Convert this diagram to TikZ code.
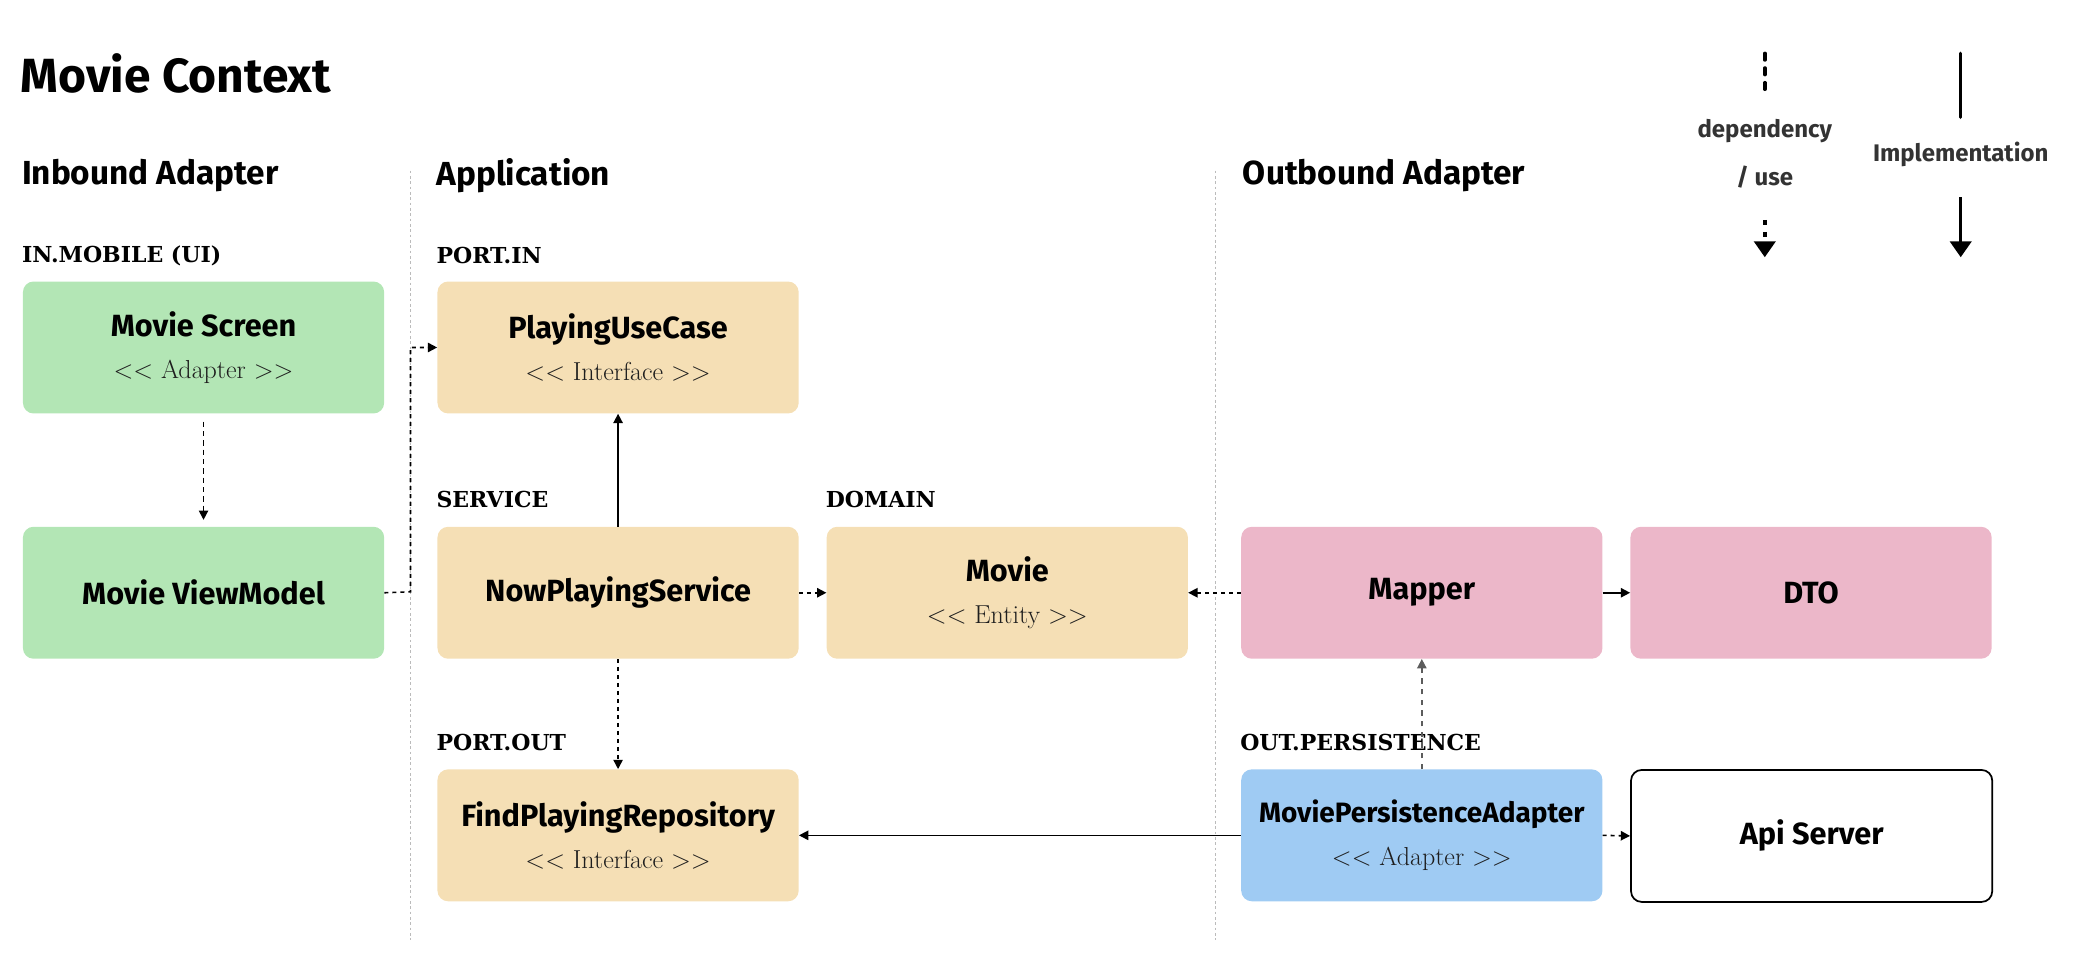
\documentclass[tikz,border=0pt]{standalone}
\usepackage{fontspec}
\usetikzlibrary{arrows.meta}
\newfontfamily\hand{Fira Sans}
\newfontfamily\slab{DejaVu Serif}
\definecolor{cgreen}{HTML}{B3E6B5}
\definecolor{ctan}{HTML}{F5DFB5}
\definecolor{cpink}{HTML}{ECB7C9}
\definecolor{cblue}{HTML}{9FCBF3}
\definecolor{cdark}{HTML}{333333}
\definecolor{csub}{HTML}{1E1E1E}
\definecolor{csep}{HTML}{BBBBBB}
\begin{document}
\begin{tikzpicture}[x=1pt,y=-1pt,
  box/.style={rounded corners=8pt, minimum width=271pt, minimum height=99pt, inner sep=0pt, anchor=north west, align=center,
    font=\fontsize{19}{32}\selectfont},
  ttl/.style={font=\hand\bfseries\fontsize{36}{42}\selectfont, anchor=west},
  sect/.style={font=\hand\bfseries\fontsize{25}{30}\selectfont, anchor=west},
  pkg/.style={font=\slab\bfseries\fontsize{16.5}{20}\selectfont, anchor=west},
  leg/.style={font=\hand\bfseries\fontsize{18}{22}\selectfont, text=cdark},
  sep/.style={csep, line width=0.9pt, dash pattern=on 2pt off 2pt},
  tip/.style={-{Triangle[length=7pt,width=7pt]}},
  dep/.style={tip, line width=1.2pt, dash pattern=on 3pt off 3pt},
  impl/.style={tip, line width=1.2pt},
]
\newcommand{\bt}[1]{{\hand\bfseries\fontsize{23}{32}\selectfont #1}}
\newcommand{\btn}[1]{{\hand\bfseries\fontsize{21}{32}\selectfont #1}}
\newcommand{\st}[1]{{\fontsize{19.5}{32}\selectfont\color{csub}#1}}
\path[use as bounding box] (0,0) rectangle (1568,723);

% titles
\node[ttl] (title) at (12,55) {Movie Context};
\node[sect] (inb) at (13,132) {Inbound Adapter};
\node[sect] (app) at (324,132) {Application};
\node[sect] (outb) at (929,132) {Outbound Adapter};

% separators
\coordinate (s1a) at (308,128); \coordinate (s1b) at (308,705);
\coordinate (s2a) at (912,128); \coordinate (s2b) at (912,705);
\draw[sep] (s1a) -- (s1b);
\draw[sep] (s2a) -- (s2b);

% package labels
\node[pkg] (lin) at (13,192) {IN.MOBILE (UI)};
\node[pkg] (lpin) at (324,192) {PORT.IN};
\node[pkg] (lsvc) at (324,375) {SERVICE};
\node[pkg] (ldom) at (616,375) {DOMAIN};
\node[pkg] (lpout) at (324,557) {PORT.OUT};
\node[pkg] (lpers) at (927,557) {OUT.PERSISTENCE};

% boxes
\node[box, fill=cgreen] (screen) at (17,211) {\bt{Movie Screen}\\\st{<{}< Adapter >{}>}};
\node[box, fill=cgreen] (vm) at (17,395) {\bt{Movie ViewModel}};
\node[box, fill=ctan] (usecase) at (328,211) {\bt{PlayingUseCase}\\\st{<{}< Interface >{}>}};
\node[box, fill=ctan] (service) at (328,395) {\bt{NowPlayingService}};
\node[box, fill=ctan] (movie) at (620,395) {\bt{Movie}\\\st{<{}< Entity >{}>}};
\node[box, fill=ctan] (repo) at (328,577) {\bt{FindPlayingRepository}\\\st{<{}< Interface >{}>}};
\node[box, fill=cpink] (mapper) at (931,395) {\bt{Mapper}};
\node[box, fill=cpink] (dto) at (1223,395) {\bt{DTO}};
\node[box, fill=cblue] (pers) at (931,577) {\btn{MoviePersistenceAdapter}\\\st{<{}< Adapter >{}>}};
\node[box, draw=black, line width=1.3pt, fill=white] (api) at (1223,577) {\bt{Api Server}};

% connectors
\draw[dep, dash pattern=on 4pt off 3pt] ([yshift=-6pt]screen.south) -- ([yshift=5pt]vm.north);
\draw[dep] (vm.east) -- (308,444) |- (usecase.west);
\draw[impl] (service.north) -- (usecase.south);
\draw[dep] (service.east) -- (movie.west);
\draw[dep] (service.south) -- (repo.north);
\draw[dep] (mapper.west) -- (movie.east);
\draw[impl] (mapper.east) -- (dto.west);
\draw[dep, draw=cdark!80, -{Triangle[length=7pt,width=7pt,fill=cdark!80]}, dash pattern=on 4pt off 4pt] (pers.north) -- (mapper.south);
\draw[impl] (pers.west) -- (repo.east);
\draw[dep] (pers.east) -- (api.west);

% legend
\coordinate (la1) at (1324,40); \coordinate (la2) at (1324,70);
\coordinate (la3) at (1324,165); \coordinate (la4) at (1324,193);
\coordinate (lb1) at (1471,40); \coordinate (lb2) at (1471,88);
\coordinate (lb3) at (1471,148); \coordinate (lb4) at (1471,193);
\draw[line width=2.6pt, line cap=round, dash pattern=on 5pt off 6pt] (la1) -- (la2);
\node[leg] (ldep) at (1324,98) {dependency};
\node[leg] (luse) at (1324,133) {/ use};
\draw[line width=2.6pt, dash pattern=on 4pt off 5pt, -{Triangle[length=12pt,width=16pt]}] (la3) -- (la4);
\draw[line width=2.6pt, line cap=round] (lb1) -- (lb2);
\node[leg] (limpl) at (1471,116) {Implementation};
\draw[line width=2.6pt, -{Triangle[length=12pt,width=16pt]}] (lb3) -- (lb4);
\end{tikzpicture}
\end{document}
